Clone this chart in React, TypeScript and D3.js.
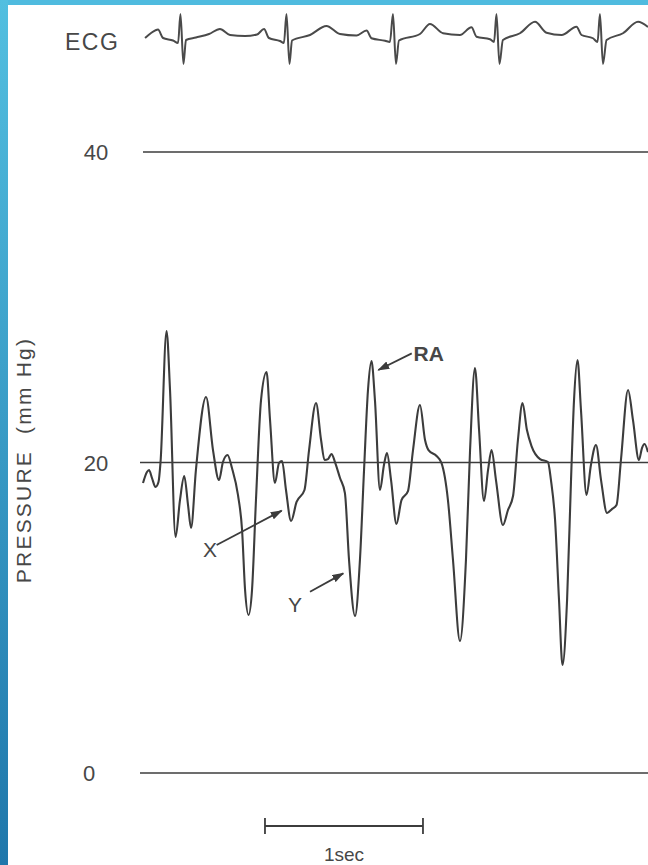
import React from "react";
import * as d3 from "d3";

// ECG trace (time in s, amplitude in mV)
const ecgTime = [0.013,0.051,0.095,0.127,0.190,0.222,0.237,0.256,0.272,0.335,0.418,0.487,0.551,0.646,0.722,0.766,0.797,0.867,0.892,0.908,0.927,0.943,1.057,1.161,1.247,1.351,1.415,1.446,1.532,1.563,1.582,1.601,1.620,1.753,1.816,1.899,2.006,2.079,2.111,2.196,2.222,2.237,2.256,2.278,2.386,2.481,2.554,2.649,2.744,2.775,2.848,2.877,2.892,2.911,2.934,3.038,3.133,3.196];
const ecgMv = [0.08,0.28,0.42,0.08,-0.02,-0.12,1.04,-0.96,0,0.10,0.24,0.44,0.20,0.16,0.22,0.44,0.08,-0.04,-0.12,1.04,-0.96,-0.02,0.20,0.56,0.24,0.18,0.38,0.07,-0.03,-0.08,1.04,-0.96,-0.02,0.24,0.64,0.27,0.20,0.51,0.13,0.03,-0.08,1.04,-0.96,0,0.27,0.73,0.29,0.20,0.53,0.20,0.07,-0.08,1.04,-0.96,0,0.27,0.73,0.52];

// Right atrial pressure trace (time in s, mm Hg)
const pressureTime = [0.000,0.025,0.038,0.057,0.079,0.098,0.111,0.149,0.171,0.206,0.234,0.261,0.285,0.304,0.335,0.399,0.443,0.481,0.506,0.535,0.563,0.601,0.627,0.646,0.668,0.690,0.715,0.747,0.782,0.804,0.835,0.861,0.880,0.905,0.937,0.972,1.022,1.051,1.095,1.127,1.149,1.171,1.193,1.215,1.247,1.278,1.304,1.342,1.373,1.399,1.424,1.446,1.468,1.500,1.525,1.544,1.570,1.604,1.636,1.677,1.709,1.753,1.785,1.807,1.858,1.889,1.930,1.962,2.006,2.044,2.070,2.101,2.127,2.158,2.184,2.206,2.234,2.278,2.310,2.342,2.373,2.402,2.430,2.459,2.513,2.563,2.582,2.608,2.633,2.655,2.684,2.709,2.728,2.750,2.772,2.807,2.835,2.867,2.899,2.937,2.968,2.997,3.025,3.070,3.101,3.139,3.158,3.174,3.196];
const pressureMmHg = [18.68,19.39,19.52,19.00,18.42,18.74,20.03,28.47,24.67,15.20,17.58,19.13,17.26,15.78,19.52,24.22,20.80,18.87,20.03,20.48,19.65,17.91,15.65,11.79,10.18,11.79,17.58,24.02,25.83,22.74,18.68,19.97,20.10,18.23,16.23,17.46,18.23,20.80,23.83,21.45,20.16,20.22,20.55,20.03,19.00,18.03,13.72,10.11,13.72,19.52,24.67,26.54,24.02,18.23,19.84,20.61,18.87,16.04,17.58,18.16,20.80,23.70,21.45,20.80,20.42,19.97,17.58,13.72,8.50,13.72,20.80,26.09,22.09,17.52,19.52,20.80,18.87,15.97,16.94,17.84,21.45,23.83,22.09,21.06,20.22,20.03,18.87,16.30,11.14,6.96,11.14,18.87,24.02,26.60,23.38,17.91,19.84,21.13,18.87,16.75,17.00,17.26,20.16,24.67,22.74,20.16,20.93,21.19,20.67];

const yTicks = [0, 20, 40];

// annotations: label, label position, arrow tail, arrow tip (in t, mmHg)
const annLabels = ["X", "Y", "RA"];
const annLabelPos = [[0.424, 13.9], [0.962, 10.4], [1.712, 26.55]];
const annTail = [[0.466, 14.69], [1.057, 11.68], [1.701, 27.03]];
const annTip = [[0.878, 16.9], [1.268, 12.86], [1.489, 25.96]];

export default function App() {
  const W = 648, H = 865;
  const x = d3.scaleLinear().domain([0, 3.2]).range([143, 143 + 3.2 * 158]);
  const y = d3.scaleLinear().domain([0, 40]).range([773, 152]);
  const ye = d3.scaleLinear().domain([-1, 1]).range([65, 15]);

  const pData = pressureTime.map((t, i) => [t, pressureMmHg[i]] as [number, number]);
  const eData = ecgTime.map((t, i) => [t, ecgMv[i]] as [number, number]);

  const pLine = d3.line<[number, number]>().x(d => x(d[0])).y(d => y(d[1])).curve(d3.curveMonotoneX);
  const eLine = d3.line<[number, number]>().x(d => x(d[0])).y(d => ye(d[1])).curve(d3.curveMonotoneX);

  const ink = "#3c3c3c";
  const txt = "#474747";
  const font = "'Liberation Sans', Arial, sans-serif";

  return (
    <svg width={W} height={H} style={{ position: "absolute", left: 0, top: 0, background: "#fff" }}>
      <defs>
        <linearGradient id="side" x1="0" y1="0" x2="0" y2="1">
          <stop offset="0" stopColor="#52bfe0" />
          <stop offset="1" stopColor="#1f77ab" />
        </linearGradient>
        <marker id="ah" viewBox="0 0 12 8" refX="11" refY="4" markerWidth="12" markerHeight="8" markerUnits="userSpaceOnUse" orient="auto">
          <path d="M0,0 L12,4 L0,8 Z" fill={ink} />
        </marker>
      </defs>
      <rect x={0} y={0} width={W} height={H} fill="#fff" />
      <rect x={0} y={0} width={W} height={5} fill="#4fbbdf" />
      <rect x={0} y={0} width={8} height={H} fill="url(#side)" />

      {/* ECG */}
      <text x={65} y={50} fontFamily={font} fontSize={23} fill={txt} letterSpacing={1.5}>ECG</text>
      <path d={eLine(eData) || ""} fill="none" stroke="#4a4a4a" strokeWidth={2} />

      {/* reference lines */}
      {yTicks.map(v => (
        <g key={v}>
          <line x1={v === 40 ? 143 : 140} x2={W} y1={y(v)} y2={y(v)} stroke={ink} strokeWidth={1.6} />
          <text x={v === 0 ? 89 : 96} y={y(v) + 8} textAnchor="middle" fontFamily={font} fontSize={22} fill={txt}>{v}</text>
        </g>
      ))}

      <text transform={`translate(31, 460) rotate(-90)`} textAnchor="middle" fontFamily={font} fontSize={21} fill={txt} letterSpacing={2.2} style={{ whiteSpace: "pre" }}>PRESSURE  (mm Hg)</text>

      {/* pressure trace */}
      <path d={pLine(pData) || ""} fill="none" stroke={ink} strokeWidth={2.1} />

      {/* annotations */}
      {annLabels.map((l, i) => (
        <g key={l}>
          <line x1={x(annTail[i][0])} y1={y(annTail[i][1])} x2={x(annTip[i][0])} y2={y(annTip[i][1])} stroke={ink} strokeWidth={1.8} markerEnd="url(#ah)" />
          <text x={x(annLabelPos[i][0])} y={y(annLabelPos[i][1])} textAnchor={l === "RA" ? "start" : "middle"} fontFamily={font} fontSize={21} fontWeight={l === "RA" ? 700 : 400} fill={txt}>{l}</text>
        </g>
      ))}

      {/* 1 sec scale bar */}
      <g stroke={ink} strokeWidth={1.8}>
        <line x1={x(0.772)} x2={x(1.772)} y1={826} y2={826} />
        <line x1={x(0.772)} x2={x(0.772)} y1={818} y2={834} />
        <line x1={x(1.772)} x2={x(1.772)} y1={818} y2={834} />
      </g>
      <text x={x(1.272)} y={861} textAnchor="middle" fontFamily={font} fontSize={19} fill={txt}>1sec</text>
    </svg>
  );
}
